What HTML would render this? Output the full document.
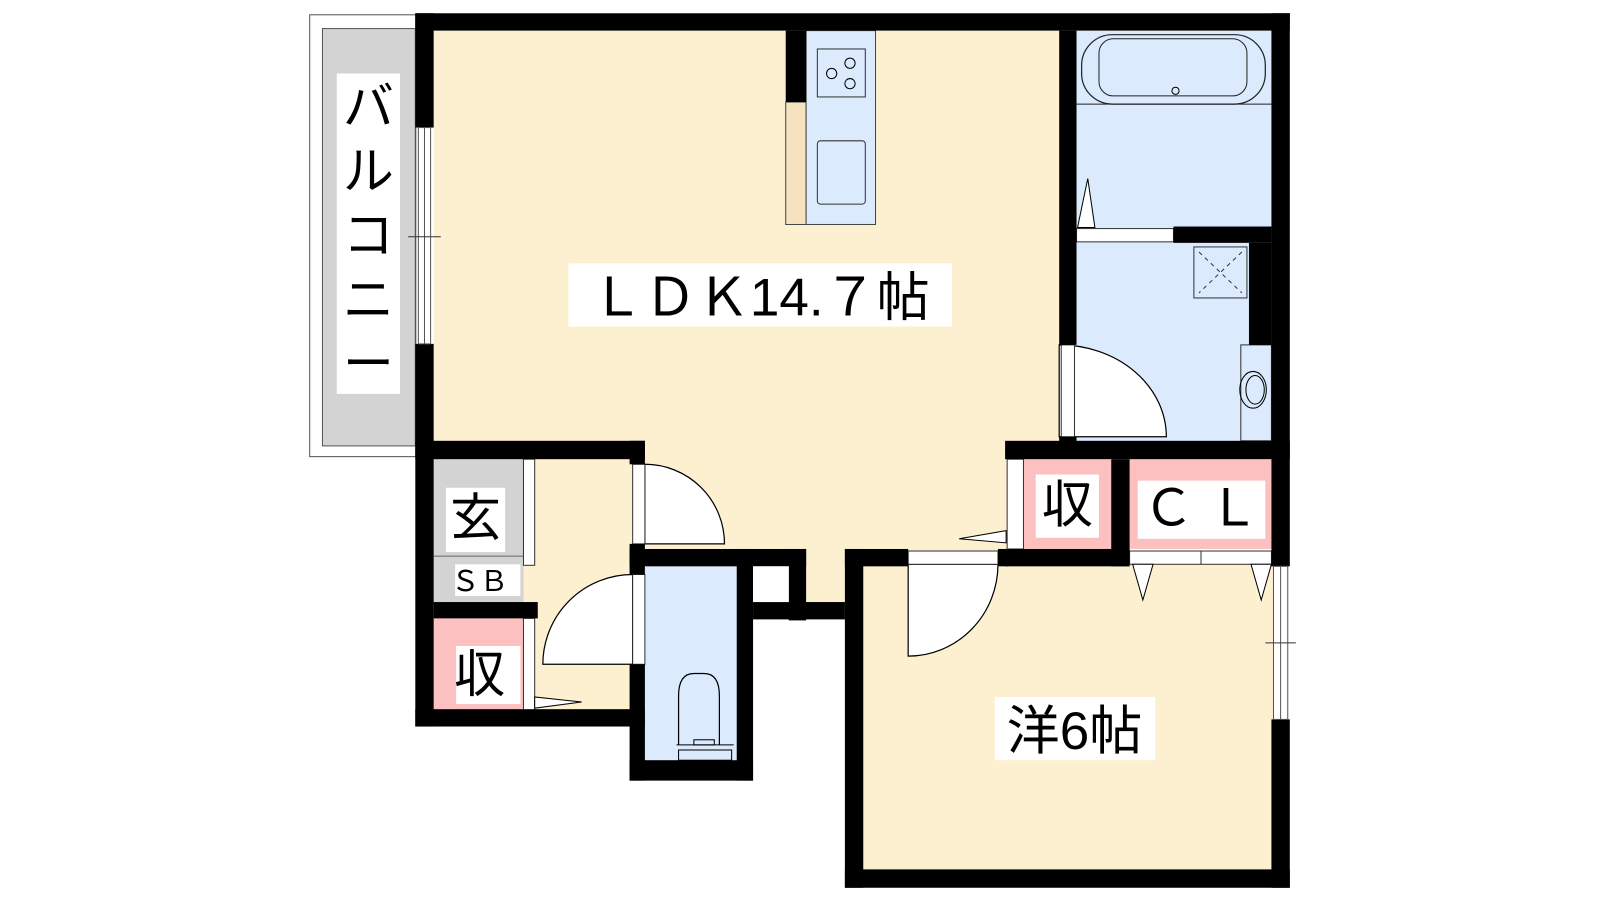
<!DOCTYPE html>
<html><head><meta charset="utf-8"><style>
html,body{margin:0;padding:0;background:#fff;width:1600px;height:900px;overflow:hidden}
svg{display:block}
text{font-family:"Liberation Sans","Noto Sans CJK JP",sans-serif;fill:#000}
</style></head><body>
<svg width="1600" height="900" viewBox="0 0 1568 882" preserveAspectRatio="none">
<!-- balcony -->
<rect x="303.5" y="14.5" width="104" height="433" fill="#fff" stroke="#555" stroke-width="1"/>
<rect x="316" y="28" width="91" height="409" fill="#d3d3d3" stroke="#555" stroke-width="1"/>
<rect x="330" y="72" width="62" height="314" fill="#fff"/>
<text x="361" y="122" font-size="50" text-anchor="middle">バ</text>
<text x="361" y="185" font-size="50" text-anchor="middle">ル</text>
<text x="361" y="248" font-size="50" text-anchor="middle">コ</text>
<text x="361" y="311" font-size="50" text-anchor="middle">ニ</text>
<text x="361" y="374" font-size="50" text-anchor="middle">ー</text>
<!-- fills -->
<rect x="425" y="30" width="613" height="410" fill="#fdf0d0"/>
<rect x="632" y="430" width="355" height="112" fill="#fdf0d0"/>
<rect x="790" y="530" width="40" height="62" fill="#fdf0d0"/>
<rect x="425" y="450" width="195" height="248" fill="#fdf0d0"/>
<rect x="1055" y="30" width="191" height="405" fill="#dbeafd"/>
<rect x="632" y="555" width="92" height="192" fill="#dbeafd"/>
<rect x="846" y="553" width="402" height="300" fill="#fdf0d0"/>
<!-- entrance -->
<rect x="425" y="450" width="88" height="140" fill="#d3d3d3"/>
<line x1="425" y1="545" x2="513" y2="545" stroke="#666" stroke-width="1"/>
<rect x="425" y="606" width="88" height="90" fill="#fcc0c0"/>
<rect x="513" y="450" width="11" height="104" fill="#fff" stroke="#333" stroke-width="1"/>
<rect x="513" y="606" width="11" height="90" fill="#fff" stroke="#333" stroke-width="1"/>
<polygon points="524,694 524,683 570,688" fill="#fff" stroke="#000" stroke-width="1"/>
<rect x="437" y="478" width="58" height="63" fill="#fff"/>
<text x="466" y="525" font-size="50" text-anchor="middle">玄</text>
<rect x="446" y="553" width="64" height="31" fill="#fff"/>
<text x="470" y="579" font-size="28" text-anchor="middle">ＳＢ</text>
<rect x="447" y="633" width="63" height="57" fill="#fff"/>
<text x="470" y="678" font-size="50" text-anchor="middle">収</text>
<!-- doors entrance -->
<path d="M632,533 L710,533 A78,78 0 0 0 632,455 Z" fill="#fff" stroke="#000" stroke-width="1.2"/>
<rect x="620" y="455" width="12" height="78" fill="#fff" stroke="#333" stroke-width="1"/>
<path d="M620,563 A88,88 0 0 0 532,651 L620,651 Z" fill="#fff" stroke="#000" stroke-width="1.2"/>
<rect x="620" y="563" width="12" height="88" fill="#fff" stroke="#333" stroke-width="1"/>
<!-- toilet fixture -->
<path d="M665,730 L665,682 Q665,660 680,660 L690,660 Q705,660 705,682 L705,730" fill="none" stroke="#000" stroke-width="1.2"/>
<line x1="663" y1="730" x2="719" y2="730" stroke="#000"/>
<rect x="680" y="725" width="20" height="5" fill="none" stroke="#000"/>
<rect x="665" y="735" width="52" height="10" fill="none" stroke="#000" stroke-width="1"/>
<!-- kitchen -->
<rect x="770" y="100" width="20" height="120" fill="#f5e3c0" stroke="#444" stroke-width="1"/>
<rect x="790" y="30" width="68" height="190" fill="#dbeafd" stroke="#444" stroke-width="1"/>
<rect x="801" y="48" width="47" height="47" fill="none" stroke="#333" stroke-width="1"/>
<circle cx="815" cy="72" r="5" fill="none" stroke="#000"/>
<circle cx="833" cy="62" r="5" fill="none" stroke="#000"/>
<circle cx="833" cy="82" r="5" fill="none" stroke="#000"/>
<rect x="801" y="138" width="47" height="62" rx="3" fill="none" stroke="#333" stroke-width="1"/>
<!-- bath -->
<rect x="1060" y="34" width="180" height="68" rx="30" fill="none" stroke="#222" stroke-width="1.2"/>
<rect x="1077" y="38" width="145" height="56" rx="14" fill="none" stroke="#222" stroke-width="1"/>
<circle cx="1152" cy="89" r="3.5" fill="none" stroke="#000"/>
<line x1="1055" y1="102" x2="1246" y2="102" stroke="#222"/>
<rect x="1055" y="224" width="95" height="13" fill="#fff" stroke="#333" stroke-width="1"/>
<polygon points="1056,223 1066,175 1073,223" fill="#fff" stroke="#000" stroke-width="1"/>
<rect x="1170" y="242" width="52" height="50" fill="none" stroke="#333"/>
<path d="M1175,247 L1217,287 M1217,247 L1175,287" stroke="#333" stroke-dasharray="4,4"/>
<rect x="1216" y="338" width="30" height="94" fill="none" stroke="#333"/>
<ellipse cx="1228" cy="382" rx="13" ry="18" fill="none" stroke="#000"/>
<ellipse cx="1230" cy="382" rx="9" ry="14" fill="none" stroke="#000"/>
<path d="M1038,428 L1143,428 A105,90 0 0 0 1038,338 Z" fill="#fff" stroke="#000" stroke-width="1.2"/>
<rect x="1040" y="338" width="13" height="90" fill="#fff" stroke="#333" stroke-width="1"/>
<!-- storage right -->
<rect x="1003" y="450" width="86" height="88" fill="#fcc0c0"/>
<rect x="1107" y="450" width="139" height="88" fill="#fcc0c0"/>
<rect x="1015" y="465" width="62" height="62" fill="#fff"/>
<text x="1046" y="512" font-size="50" text-anchor="middle">収</text>
<rect x="1115" y="471" width="125" height="57" fill="#fff"/>
<text x="1177" y="515" font-size="50" text-anchor="middle">Ｃ Ｌ</text>
<rect x="987" y="450" width="16" height="88" fill="#fff" stroke="#333"/>
<polygon points="986,520 986,532 940,528" fill="#fff" stroke="#000"/>
<rect x="1107" y="540" width="70" height="13" fill="#fff" stroke="#333"/>
<rect x="1177" y="540" width="69" height="13" fill="#fff" stroke="#333"/>
<polygon points="1110,553 1130,553 1120,588" fill="#fff" stroke="#000"/>
<polygon points="1226,553 1246,553 1236,588" fill="#fff" stroke="#000"/>
<!-- western room door -->
<path d="M890,553 L890,643 A88,90 0 0 0 978,553 Z" fill="#fff" stroke="#000" stroke-width="1.2"/>
<rect x="890" y="540" width="88" height="13" fill="#fff" stroke="#333"/>
<!-- walls -->
<g fill="#000">
<rect x="407" y="13" width="857" height="17"/>
<rect x="1246" y="13" width="18" height="542"/>
<rect x="1246" y="705" width="18" height="165"/>
<rect x="407" y="13" width="18" height="112"/>
<rect x="407" y="337" width="18" height="375"/>
<rect x="1038" y="30" width="17" height="308"/>
<rect x="1150" y="222" width="96" height="16"/>
<rect x="1224" y="238" width="22" height="100"/>
<rect x="985" y="432" width="279" height="18"/>
<rect x="1038" y="428" width="17" height="6"/>
<rect x="1089" y="450" width="18" height="105"/>
<rect x="985" y="538" width="122" height="17"/>
<rect x="828" y="538" width="62" height="17"/>
<rect x="978" y="538" width="10" height="17"/>
<rect x="828" y="538" width="18" height="332"/>
<rect x="828" y="852" width="436" height="18"/>
<rect x="770" y="30" width="20" height="70"/>
<rect x="407" y="432" width="225" height="18"/>
<rect x="617" y="432" width="15" height="23"/>
<rect x="617" y="533" width="15" height="30"/>
<rect x="617" y="651" width="15" height="114"/>
<rect x="425" y="590" width="102" height="16"/>
<rect x="407" y="695" width="225" height="17"/>
<rect x="617" y="538" width="173" height="17"/>
<rect x="722" y="538" width="16" height="227"/>
<rect x="617" y="745" width="121" height="20"/>
<rect x="773" y="538" width="17" height="70"/>
<rect x="738" y="590" width="90" height="17"/>
</g>
<rect x="738" y="555" width="35" height="35" fill="#fff"/>
<!-- windows -->
<rect x="410" y="125" width="12" height="212" fill="#fff" stroke="#555"/>
<line x1="416" y1="125" x2="416" y2="337" stroke="#555"/>
<line x1="400" y1="232" x2="432" y2="232" stroke="#333"/>
<rect x="1248" y="555" width="14" height="150" fill="#fff" stroke="#555"/>
<line x1="1255" y1="555" x2="1255" y2="705" stroke="#555"/>
<line x1="1240" y1="630" x2="1270" y2="630" stroke="#333"/>
<!-- labels -->
<rect x="557" y="258" width="376" height="62" fill="#fff"/>
<text x="745" y="309" font-size="52" text-anchor="middle">ＬＤＫ14.７帖</text>
<rect x="975" y="683" width="157" height="62" fill="#fff"/>
<text x="1053" y="734" font-size="52" text-anchor="middle">洋6帖</text>
</svg>
</body></html>
